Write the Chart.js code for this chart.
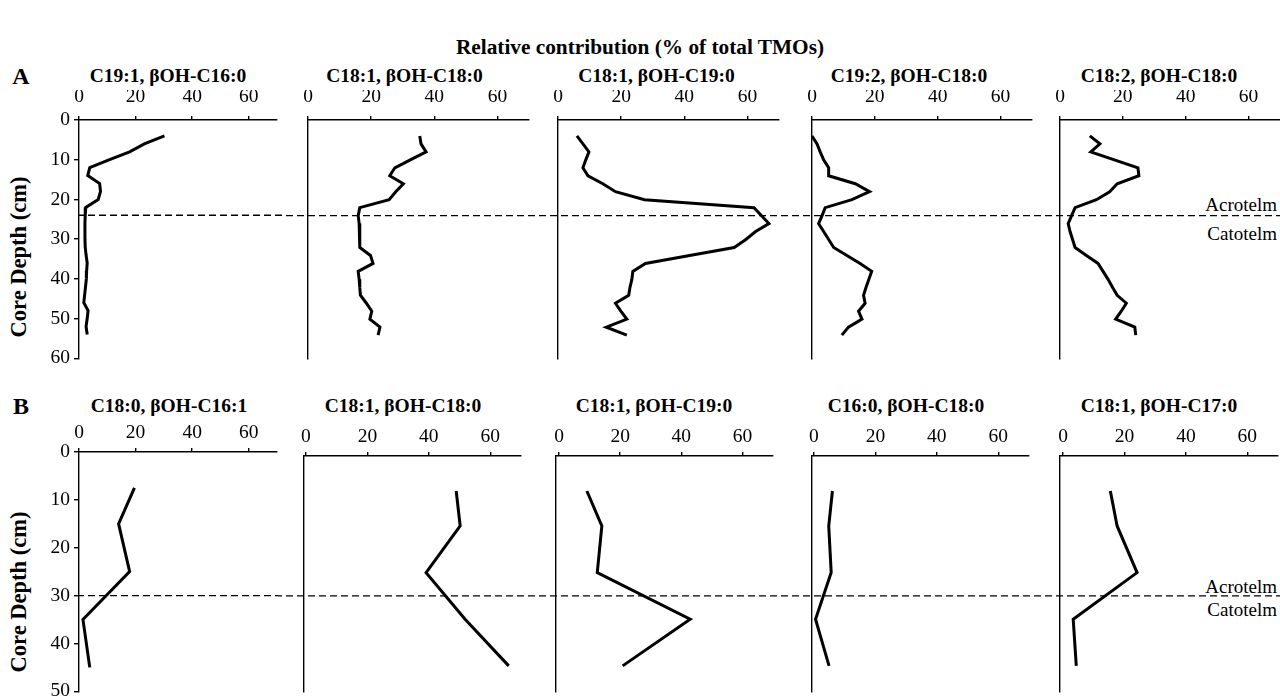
<!DOCTYPE html>
<html>
<head>
<meta charset="utf-8">
<script src="https://cdn.jsdelivr.net/npm/chart.js@4.4.1/dist/chart.umd.min.js"></script>
<style>
  body { margin: 0; background: #fff; width: 1280px; height: 698px; overflow: hidden; position: relative;
         font-family: "Liberation Serif", "Times New Roman", serif; color: #000; }
  .box { position: absolute; }
  .t { position: absolute; white-space: nowrap; line-height: 1; transform: translate(-50%, -50%); }
  .b { font-weight: bold; }
  .r { position: absolute; white-space: nowrap; line-height: 1; right: 3px; transform: translateY(-50%); font-size: 19px; }
</style>
</head>
<body>
<div class="t b" style="left:640px;top:48px;font-size:21.3px">Relative contribution (% of total TMOs)</div>
<div class="t b" style="left:21px;top:76px;font-size:24px">A</div>
<div class="t b" style="left:21px;top:406px;font-size:24px">B</div>
<div class="t b" style="left:18.5px;top:257px;font-size:22.5px;transform:translate(-50%,-50%) rotate(-90deg)">Core Depth (cm)</div>
<div class="t b" style="left:18.5px;top:592px;font-size:22.5px;transform:translate(-50%,-50%) rotate(-90deg)">Core Depth (cm)</div>
<div class="r" style="top:204px">Acrotelm</div>
<div class="r" style="top:233px">Catotelm</div>
<div class="r" style="top:586px">Acrotelm</div>
<div class="r" style="top:609px">Catotelm</div>
<div id="charts"></div>
<script>
// profondità (cm)
const depthA = [4, 6, 8, 10, 12, 14, 16, 18, 20, 22, 24, 26, 28, 30, 32, 34, 36, 38, 40, 42, 44, 46, 48, 50, 52, 54];
const depthB = [7.5, 15, 25, 35, 45];

const titlesA = ['C19:1, βOH-C16:0', 'C18:1, βOH-C18:0', 'C18:1, βOH-C19:0', 'C19:2, βOH-C18:0', 'C18:2, βOH-C18:0'];
const titlesB = ['C18:0, βOH-C16:1', 'C18:1, βOH-C18:0', 'C18:1, βOH-C19:0', 'C16:0, βOH-C18:0', 'C18:1, βOH-C17:0'];

// % del totale TMOs, riga A
const a1 = [30.2, 23.1, 17.9, 10.8, 3.8, 3.1, 7.3, 7.6, 6.8, 2.4, 2.2, 2.1, 2.1, 2.1, 2.2, 2.5, 2.9, 2.7, 2.6, 2.3, 2.0, 1.7, 3.2, 2.9, 2.5, 2.9];
const a2 = [35.4, 35.8, 37.4, 32.4, 27.5, 25.9, 30.2, 27.8, 25.7, 16.4, 15.9, 16.2, 16.4, 16.4, 16.4, 19.8, 20.6, 15.9, 16.2, 16.4, 16.6, 18.5, 20.2, 19.6, 22.8, 22.2];
const a3 = [6.0, 7.9, 9.8, 8.8, 7.9, 9.5, 14.2, 18.2, 27.4, 62.1, 64.4, 66.8, 62.6, 59.5, 55.8, 41.7, 27.7, 23.7, 23.4, 22.8, 22.4, 18.2, 19.9, 21.8, 15.3, 21.8];
const a4 = [0.0, 1.6, 2.6, 3.7, 5.3, 5.3, 13.8, 18.3, 12.7, 4.2, 3.2, 2.1, 3.7, 5.3, 6.9, 11.1, 15.3, 19.0, 18.1, 17.2, 16.4, 16.9, 14.8, 15.9, 11.6, 9.5];
const a5 = [9.5, 12.7, 9.8, 17.3, 24.8, 25.1, 18.2, 15.8, 11.6, 4.8, 3.7, 2.6, 3.2, 4.0, 4.8, 8.4, 12.1, 13.7, 15.3, 16.7, 18.2, 21.1, 19.5, 17.7, 23.8, 24.1];
// riga B
const b1 = [19.6, 14.0, 17.9, 1.4, 3.8];
const b2 = [48.9, 50.2, 39.1, 51.8, 66.0];
const b3 = [9.1, 14.0, 12.5, 42.9, 20.8];
const b4 = [6.0, 4.8, 5.6, 0.5, 4.9];
const b5 = [15.4, 17.6, 24.1, 3.3, 4.3];

const xTicks = [0, 20, 40, 60];
const yTicksA = [0, 10, 20, 30, 40, 50, 60];
const yTicksB = [0, 10, 20, 30, 40, 50];

// confine acrotelm / catotelm
const boundaryA = 24;
const boundaryB = 30;

// geometria dei pannelli (pixel)
const pannelliA = [
  { box: 0,    yW: 79, w: 198, xMin: 0 },
  { box: 282,  yW: 26, w: 221, xMin: 0 },
  { box: 532,  yW: 26, w: 221, xMin: 0 },
  { box: 786,  yW: 26, w: 220, xMin: 0 },
  { box: 1034, yW: 26, w: 220, xMin: 0 }
];
const pannelliB = [
  { box: 0,    yW: 79, w: 198, xMin: 0,     top: 452, h: 240, yMax: 50 },
  { box: 278,  yW: 26, w: 217, xMin: -0.65, top: 456, h: 236, yMax: 50.6 },
  { box: 530,  yW: 26, w: 217, xMin: -1.0,  top: 456, h: 236, yMax: 50.6 },
  { box: 786,  yW: 26, w: 217, xMin: -0.65, top: 456, h: 236, yMax: 50.6 },
  { box: 1034, yW: 26, w: 218, xMin: -1.0,  top: 456, h: 236, yMax: 50.6 }
];

const titlePosA = [[168, 75.5], [404.5, 75.5], [656.5, 75.5], [909, 75.5], [1159, 75.5]];
const titlePosB = [[169, 405.5], [403, 406], [654, 406], [906, 406], [1159, 406]];

// linea tratteggiata del confine
const lineaConfine = {
  id: 'lineaConfine',
  afterDatasetsDraw(chart, args, opts) {
    const { ctx, chartArea, scales } = chart;
    const y = scales.y.getPixelForValue(opts.depth);
    const x0 = opts.fromAxis ? chartArea.left : 0;
    ctx.save();
    ctx.strokeStyle = '#000';
    ctx.lineWidth = 1.4;
    ctx.setLineDash([7, 4]);
    ctx.lineDashOffset = (opts.left + x0) % 11;
    ctx.beginPath();
    ctx.moveTo(x0, y);
    ctx.lineTo(chart.width, y);
    ctx.stroke();
    ctx.restore();
  }
};

const fonteTick = { family: 'Liberation Serif', size: 19.5 };

function creaPannello(p, i, next, top, h, yMax, yTicks, depth, vals, boundary, tickPad) {
  const width = (next === null ? 1280 : next) - p.box;
  const div = document.createElement('div');
  div.className = 'box';
  div.style.left = p.box + 'px';
  div.style.top = (top - 30) + 'px';
  div.style.width = width + 'px';
  div.style.height = (h + 45) + 'px';
  const canvas = document.createElement('canvas');
  div.appendChild(canvas);
  document.getElementById('charts').appendChild(div);

  new Chart(canvas.getContext('2d'), {
    type: 'line',
    data: {
      datasets: [{
        data: depth.map((d, k) => ({ x: vals[k], y: d })),
        borderColor: '#000',
        borderWidth: 3,
        pointRadius: 0,
        tension: 0,
        fill: false,
        clip: false
      }]
    },
    options: {
      responsive: true,
      maintainAspectRatio: false,
      animation: false,
      layout: { padding: { top: 0, left: 0, right: width - p.yW - p.w, bottom: 15 } },
      plugins: {
        legend: { display: false },
        tooltip: { enabled: false },
        lineaConfine: { depth: boundary, fromAxis: i === 0, left: p.box }
      },
      scales: {
        x: {
          type: 'linear',
          position: 'top',
          min: p.xMin,
          max: 70,
          afterBuildTicks: s => { s.ticks = xTicks.map(v => ({ value: v })); },
          afterFit: s => { s.height = 30; },
          grid: { drawOnChartArea: false, tickLength: 4, color: '#000', lineWidth: 1.4 },
          border: { color: '#000', width: 1.4 },
          ticks: { color: '#000', font: fonteTick, padding: tickPad, maxRotation: 0 }
        },
        y: {
          type: 'linear',
          reverse: true,
          min: 0,
          max: yMax,
          afterBuildTicks: s => { s.ticks = yTicks.map(v => ({ value: v })); },
          afterFit: s => { s.width = p.yW; },
          grid: { drawOnChartArea: false, drawTicks: i === 0, tickLength: 5, color: '#000', lineWidth: 1.4 },
          border: { color: '#000', width: 1.4 },
          ticks: { display: i === 0, color: '#000', font: fonteTick, padding: 4 }
        }
      }
    },
    plugins: [lineaConfine]
  });
}

function titolo(testo, pos) {
  const d = document.createElement('div');
  d.className = 't b';
  d.style.left = pos[0] + 'px';
  d.style.top = pos[1] + 'px';
  d.style.fontSize = '19.5px';
  d.textContent = testo;
  document.body.appendChild(d);
}

const serieA = [a1, a2, a3, a4, a5];
const serieB = [b1, b2, b3, b4, b5];

pannelliA.forEach((p, i) => {
  const next = i < 4 ? pannelliA[i + 1].box : null;
  creaPannello(p, i, next, 120, 239, 60, yTicksA, depthA, serieA[i], boundaryA, 7);
  titolo(titlesA[i], titlePosA[i]);
});

pannelliB.forEach((p, i) => {
  const next = i < 4 ? pannelliB[i + 1].box : null;
  creaPannello(p, i, next, p.top, p.h, p.yMax, i === 0 ? yTicksB : yTicksA, depthB, serieB[i], boundaryB, 3);
  titolo(titlesB[i], titlePosB[i]);
});
</script>
</body>
</html>
